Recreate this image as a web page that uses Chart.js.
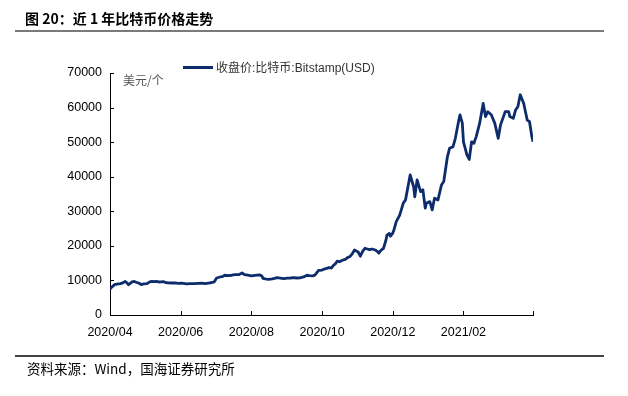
<!DOCTYPE html>
<html>
<head>
<meta charset="utf-8">
<script src="https://cdn.jsdelivr.net/npm/chart.js@4"></script>
<style>
  html, body { margin:0; padding:0; background:#fff; }
  #wrap { position:relative; width:628px; height:396px; overflow:hidden; }
  #c { position:absolute; left:0; top:0; }
  .title { position:absolute; left:25px; top:8px; font-family:"Noto Sans CJK SC", sans-serif; font-weight:700; font-size:14px; color:#000; white-space:nowrap; }
  .rule { position:absolute; left:15px; width:589px; }
  .src { position:absolute; left:27px; top:358px; font-family:"Noto Sans CJK SC", sans-serif; font-size:13.5px; color:#000; white-space:nowrap; }
  .legend { position:absolute; left:183px; top:58px; font-family:"Liberation Sans","Noto Sans CJK SC", sans-serif; font-size:12px; color:#333; white-space:nowrap; }
  .legend .sw { display:inline-block; width:30px; height:3px; background:#0c2c6c; vertical-align:middle; margin-right:3px; position:relative; top:-1px; }
  .unit { position:absolute; left:123px; top:71px; font-family:"Noto Sans CJK SC", sans-serif; font-size:12px; color:#555; white-space:nowrap; }
</style>
</head>
<body>
<div id="wrap">
  <canvas id="c" width="628" height="396"></canvas>
  <div class="title">图 20：近 1 年比特币价格走势</div>
  <div class="rule" style="top:30px;height:2px;background:#7a7a7a;"></div>
  <div class="legend"><span class="sw"></span>收盘价:比特币:Bitstamp(USD)</div>
  <div class="unit">美元/个</div>
  <div class="rule" style="top:355px;height:2px;background:#444;"></div>
  <div class="src">资料来源：Wind，国海证券研究所</div>
</div>
<script>
// Day offsets from 2020/04/23 and BTC closing prices (USD)
const dayIndex = [0,2,4,6,9,11,13,14,16,18,19,21,23,25,27,29,32,34,36,38,40,42,44,46,48,50,53,56,59,62,66,69,73,76,79,82,85,88,90,92,95,97,99,102,105,108,111,114,116,119,122,125,129,131,132,135,137,140,142,144,147,150,153,156,158,161,164,167,170,172,175,177,180,183,185,187,189,191,193,195,196,198,201,203,205,207,209,211,213,214,216,218,220,222,224,226,229,231,232,234,236,238,239,241,242,244,245,247,250,253,255,259,262,263,265,268,270,272,273,276,278,280,283,286,288,291,293,296,298,301,302,304,305,308,310,312,314,316,319,322,324,326,329,332,335,337,341,344,345,348,350,352,354,357,360,362,364,365];
const closePrice = [7500,8200,8770,8900,9060,9300,9700,9500,8770,9300,9550,9700,9400,9200,8800,9000,9100,9500,9750,9650,9700,9550,9600,9650,9400,9300,9250,9300,9150,9200,9000,9050,9100,9150,9200,9100,9250,9400,9600,10700,11000,11100,11500,11400,11500,11700,11650,12150,11700,11500,11300,11450,11600,11300,10600,10400,10300,10450,10600,10800,10650,10500,10650,10700,10800,10700,10750,11000,11500,11400,11300,11600,12900,13000,13300,13500,13700,13600,14400,15000,15600,15400,15900,16100,16600,16900,17700,18800,18400,18300,17000,18400,19300,19100,18900,19100,18800,18300,17900,18800,19300,21500,23100,23600,22800,23700,24600,27000,28900,32300,33300,40500,37100,34200,39100,35700,36200,30900,32300,32800,30400,33800,33300,37600,38600,45500,48200,48700,51100,56400,57900,55500,50100,46300,45000,50100,49700,51600,55500,61200,57400,58800,57900,55500,51100,55000,58800,58800,57400,56900,59300,60300,63700,61200,56400,55900,51600,50100];
const tickDays = [0,61,122,183,244,305,365];
const tickLabels = ['2020/04','2020/06','2020/08','2020/10','2020/12','2021/02',''];
const yTicks = [0,10000,20000,30000,40000,50000,60000,70000];

const inwardTicks = {
  id:'inwardTicks',
  afterDraw(chart){
    const ctx = chart.ctx, xs = chart.scales.x, ys = chart.scales.y, a = chart.chartArea;
    ctx.save();
    ctx.strokeStyle = '#000'; ctx.lineWidth = 1;
    ctx.beginPath();
    yTicks.forEach(v => { const y = Math.round(ys.getPixelForValue(v)) + 0.5; ctx.moveTo(a.left, y); ctx.lineTo(a.left + 4, y); });
    tickDays.forEach(v => { const x = Math.round(xs.getPixelForValue(v)) + 0.5; ctx.moveTo(x, a.bottom); ctx.lineTo(x, a.bottom - 4); });
    ctx.stroke();
    ctx.restore();
  }
};

new Chart(document.getElementById('c'), {
  type:'line',
  data:{ datasets:[{
    data: dayIndex.map((d,i)=>({x:d, y:closePrice[i]})),
    borderColor:'#0c2c6c', borderWidth:2.8, pointRadius:0, tension:0, fill:false, borderJoinStyle:'round'
  }]},
  options:{
    responsive:false, animation:false, devicePixelRatio:1,
    layout:{ padding:{ left:0, top:73, right:95, bottom:0 } },
    plugins:{ legend:{display:false}, tooltip:{enabled:false} },
    scales:{
      x:{
        type:'linear', min:0, max:365,
        afterBuildTicks(s){ s.ticks = tickDays.map(v=>({value:v})); },
        afterFit(s){ s.height = 81; },
        ticks:{ autoSkip:false, maxRotation:0, padding:10, color:'#000',
          font:{ family:'"Liberation Sans", Arial, sans-serif', size:12.5 },
          callback(v, i){ return tickLabels[i]; } },
        grid:{ drawOnChartArea:false, drawTicks:false },
        border:{ display:true, color:'#000', width:1 }
      },
      y:{
        min:0, max:70000,
        afterBuildTicks(s){ s.ticks = yTicks.map(v=>({value:v})); },
        afterFit(s){ s.width = 110; },
        ticks:{ padding:8, color:'#000',
          font:{ family:'"Liberation Sans", Arial, sans-serif', size:12.5 },
          callback(v){ return String(v); } },
        grid:{ drawOnChartArea:false, drawTicks:false },
        border:{ display:true, color:'#000', width:1 }
      }
    }
  },
  plugins:[inwardTicks]
});
</script>
</body>
</html>
